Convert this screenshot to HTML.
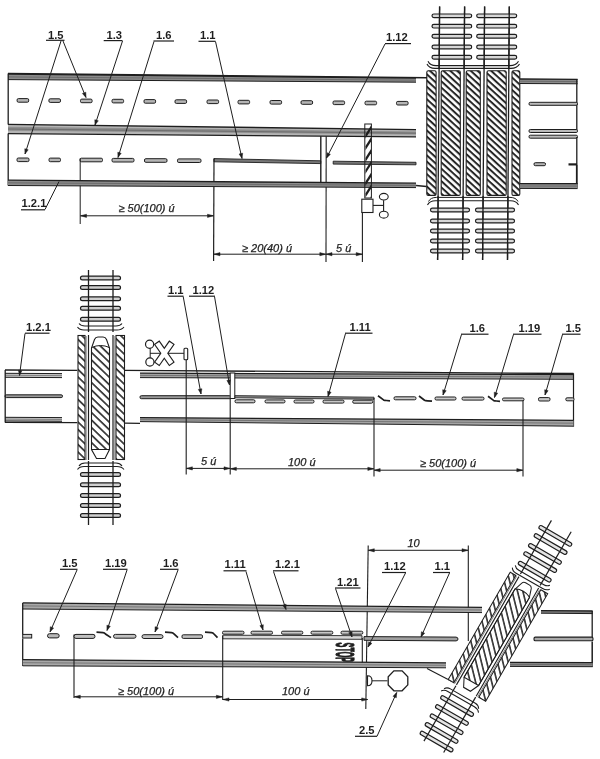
<!DOCTYPE html>
<html><head><meta charset="utf-8"><style>
html,body{margin:0;padding:0;background:#fff;}
svg{display:block;will-change:transform;}
text{font-family:"Liberation Sans",sans-serif;}
</style></head><body>
<svg width="600" height="759" viewBox="0 0 600 759">
<defs>
<pattern id="hatch1" width="20" height="4.6" patternUnits="userSpaceOnUse" patternTransform="rotate(42.5)"><rect width="20" height="2.0" fill="#262626"/></pattern>
<pattern id="hatch2" width="20" height="5.4" patternUnits="userSpaceOnUse" patternTransform="rotate(44)"><rect width="20" height="1.7" fill="#333"/></pattern>
</defs>
<rect width="600" height="759" fill="#fff"/>
<text x="48.0" y="38.8" font-size="11.2" text-anchor="start" font-weight="bold" font-style="normal" fill="#1e1e1e" >1.5</text>
<line x1="46.0" y1="40.3" x2="64.5" y2="40.3" stroke="#1e1e1e" stroke-width="1.2" />
<text x="106.5" y="38.8" font-size="11.2" text-anchor="start" font-weight="bold" font-style="normal" fill="#1e1e1e" >1.3</text>
<line x1="103.7" y1="40.6" x2="122.5" y2="40.6" stroke="#1e1e1e" stroke-width="1.2" />
<text x="156.0" y="39.0" font-size="11.2" text-anchor="start" font-weight="bold" font-style="normal" fill="#1e1e1e" >1.6</text>
<line x1="153.5" y1="41.0" x2="174.0" y2="41.0" stroke="#1e1e1e" stroke-width="1.2" />
<text x="200.0" y="39.2" font-size="11.2" text-anchor="start" font-weight="bold" font-style="normal" fill="#1e1e1e" >1.1</text>
<line x1="198.5" y1="41.3" x2="215.5" y2="41.3" stroke="#1e1e1e" stroke-width="1.2" />
<text x="386.0" y="41.2" font-size="11.2" text-anchor="start" font-weight="bold" font-style="normal" fill="#1e1e1e" >1.12</text>
<line x1="385.0" y1="43.6" x2="411.0" y2="43.6" stroke="#1e1e1e" stroke-width="1.2" />
<text x="21.5" y="206.6" font-size="11.2" text-anchor="start" font-weight="bold" font-style="normal" fill="#1e1e1e" >1.2.1</text>
<line x1="21.0" y1="209.8" x2="45.0" y2="209.8" stroke="#1e1e1e" stroke-width="1.2" />
<line x1="8.0" y1="73.6" x2="427.0" y2="77.8" stroke="#1e1e1e" stroke-width="1.5" />
<polygon points="8.0,74.2 416.0,78.2 416.0,82.2 8.0,79.6" fill="#8c8c8c" stroke="none" stroke-width="1.0" />
<line x1="8.0" y1="74.2" x2="416.0" y2="78.2" stroke="#1e1e1e" stroke-width="1.3" />
<line x1="8.0" y1="79.6" x2="416.0" y2="82.2" stroke="#1e1e1e" stroke-width="1.0" />
<line x1="8.0" y1="76.9" x2="416.0" y2="80.2" stroke="#555" stroke-width="0.6" />
<line x1="8.2" y1="73.5" x2="8.2" y2="124.5" stroke="#1e1e1e" stroke-width="1.3" />
<line x1="8.2" y1="133.5" x2="8.2" y2="185.5" stroke="#1e1e1e" stroke-width="1.3" />
<rect x="17.1" y="98.6" width="11.6" height="3.6" rx="1.3" fill="#b5b5b5" stroke="#1e1e1e" stroke-width="1.0"/>
<rect x="48.9" y="98.8" width="11.6" height="3.6" rx="1.3" fill="#b5b5b5" stroke="#1e1e1e" stroke-width="1.0"/>
<rect x="80.5" y="99.1" width="11.6" height="3.6" rx="1.3" fill="#b5b5b5" stroke="#1e1e1e" stroke-width="1.0"/>
<rect x="112.0" y="99.3" width="11.6" height="3.6" rx="1.3" fill="#b5b5b5" stroke="#1e1e1e" stroke-width="1.0"/>
<rect x="144.0" y="99.6" width="11.6" height="3.6" rx="1.3" fill="#b5b5b5" stroke="#1e1e1e" stroke-width="1.0"/>
<rect x="175.0" y="99.8" width="11.6" height="3.6" rx="1.3" fill="#b5b5b5" stroke="#1e1e1e" stroke-width="1.0"/>
<rect x="207.0" y="100.0" width="11.6" height="3.6" rx="1.3" fill="#b5b5b5" stroke="#1e1e1e" stroke-width="1.0"/>
<rect x="238.0" y="100.3" width="11.6" height="3.6" rx="1.3" fill="#b5b5b5" stroke="#1e1e1e" stroke-width="1.0"/>
<rect x="270.0" y="100.5" width="11.6" height="3.6" rx="1.3" fill="#b5b5b5" stroke="#1e1e1e" stroke-width="1.0"/>
<rect x="301.0" y="100.7" width="11.6" height="3.6" rx="1.3" fill="#b5b5b5" stroke="#1e1e1e" stroke-width="1.0"/>
<rect x="333.0" y="101.0" width="11.6" height="3.6" rx="1.3" fill="#b5b5b5" stroke="#1e1e1e" stroke-width="1.0"/>
<rect x="365.0" y="101.2" width="11.6" height="3.6" rx="1.3" fill="#b5b5b5" stroke="#1e1e1e" stroke-width="1.0"/>
<rect x="396.5" y="101.4" width="11.6" height="3.6" rx="1.3" fill="#b5b5b5" stroke="#1e1e1e" stroke-width="1.0"/>
<polygon points="8.0,124.4 416.0,129.6 416.0,136.8 8.0,133.6" fill="#b4b4b4" stroke="none" stroke-width="1.0" />
<line x1="8.0" y1="124.4" x2="416.0" y2="129.6" stroke="#1e1e1e" stroke-width="1.4" />
<polygon points="8.0,126.8 416.0,131.4 416.0,134.6 8.0,130.8" fill="#8e8e8e" stroke="none" stroke-width="1.0" />
<line x1="8.0" y1="129.0" x2="416.0" y2="133.2" stroke="#555" stroke-width="0.6" />
<line x1="8.0" y1="133.6" x2="416.0" y2="136.8" stroke="#1e1e1e" stroke-width="1.2" />
<rect x="17.0" y="158.0" width="12.0" height="3.6" rx="1.3" fill="#b5b5b5" stroke="#1e1e1e" stroke-width="1.0"/>
<rect x="49.0" y="158.1" width="11.5" height="3.6" rx="1.3" fill="#b5b5b5" stroke="#1e1e1e" stroke-width="1.0"/>
<rect x="80.0" y="158.2" width="22.5" height="3.6" rx="1.3" fill="#b5b5b5" stroke="#1e1e1e" stroke-width="1.0"/>
<rect x="112.0" y="158.4" width="22.0" height="3.6" rx="1.3" fill="#b5b5b5" stroke="#1e1e1e" stroke-width="1.0"/>
<rect x="144.5" y="158.7" width="22.5" height="3.6" rx="1.3" fill="#b5b5b5" stroke="#1e1e1e" stroke-width="1.0"/>
<rect x="177.5" y="158.9" width="23.5" height="3.6" rx="1.3" fill="#b5b5b5" stroke="#1e1e1e" stroke-width="1.0"/>
<polygon points="214.0,158.6 320.8,160.8 320.8,163.6 214.0,161.8" fill="#777" stroke="#1e1e1e" stroke-width="0.9" />
<polygon points="333.2,161.2 416.0,162.3 416.0,164.8 333.2,164.1" fill="#777" stroke="#1e1e1e" stroke-width="0.9" />
<line x1="320.8" y1="136.2" x2="320.8" y2="187.0" stroke="#1e1e1e" stroke-width="1.4" />
<line x1="326.2" y1="136.2" x2="326.0" y2="262.0" stroke="#1e1e1e" stroke-width="1.1" />
<line x1="80.2" y1="158.5" x2="80.2" y2="224.0" stroke="#1e1e1e" stroke-width="1.0" />
<line x1="214.0" y1="158.6" x2="213.6" y2="261.0" stroke="#1e1e1e" stroke-width="1.2" />
<polygon points="8.0,180.2 416.0,183.2 416.0,187.6 8.0,185.5" fill="#8c8c8c" stroke="none" stroke-width="1.0" />
<line x1="8.0" y1="180.2" x2="416.0" y2="183.2" stroke="#1e1e1e" stroke-width="1.3" />
<line x1="8.0" y1="185.5" x2="416.0" y2="187.6" stroke="#1e1e1e" stroke-width="1.0" />
<line x1="8.0" y1="182.8" x2="416.0" y2="185.4" stroke="#555" stroke-width="0.6" />
<line x1="416.0" y1="185.5" x2="426.5" y2="186.5" stroke="#1e1e1e" stroke-width="1.3" />
<rect x="364.8" y="124" width="6.6" height="74" fill="none" stroke="#1e1e1e" stroke-width="1"/>
<clipPath id="postclip"><rect x="365.3" y="124.5" width="5.8" height="73"/></clipPath><g clip-path="url(#postclip)">
<polygon points="365.3,134.5 371.0,125.5 371.0,129.7 365.3,138.7" fill="#1e1e1e" stroke="none" stroke-width="1.0" />
<polygon points="365.3,146.3 371.0,137.3 371.0,141.5 365.3,150.5" fill="#1e1e1e" stroke="none" stroke-width="1.0" />
<polygon points="365.3,158.1 371.0,149.1 371.0,153.3 365.3,162.3" fill="#1e1e1e" stroke="none" stroke-width="1.0" />
<polygon points="365.3,169.9 371.0,160.9 371.0,165.1 365.3,174.1" fill="#1e1e1e" stroke="none" stroke-width="1.0" />
<polygon points="365.3,181.7 371.0,172.7 371.0,176.9 365.3,185.9" fill="#1e1e1e" stroke="none" stroke-width="1.0" />
<polygon points="365.3,193.5 371.0,184.5 371.0,188.7 365.3,197.7" fill="#1e1e1e" stroke="none" stroke-width="1.0" />
<polygon points="365.3,205.3 371.0,196.3 371.0,200.5 365.3,209.5" fill="#1e1e1e" stroke="none" stroke-width="1.0" />
</g>
<rect x="361.8" y="199.2" width="11.2" height="13.3" fill="#fff" stroke="#1e1e1e" stroke-width="1.1"/>
<line x1="373.0" y1="205.4" x2="383.6" y2="205.4" stroke="#1e1e1e" stroke-width="1.1" />
<line x1="383.6" y1="200.2" x2="383.6" y2="211.4" stroke="#1e1e1e" stroke-width="1.1" />
<ellipse cx="383.8" cy="196.7" rx="4.4" ry="3.3" fill="#fff" stroke="#1e1e1e" stroke-width="1.1"/>
<ellipse cx="383.8" cy="214.7" rx="4.4" ry="3.4" fill="#fff" stroke="#1e1e1e" stroke-width="1.1"/>
<line x1="362.4" y1="212.5" x2="362.4" y2="262.0" stroke="#1e1e1e" stroke-width="1.1" />
<line x1="80.5" y1="215.8" x2="213.5" y2="215.8" stroke="#1e1e1e" stroke-width="1.0" />
<polygon points="80.5,215.8 86.5,214.2 86.5,217.4" fill="#1e1e1e" stroke="#1e1e1e" stroke-width="0.5" />
<polygon points="213.5,215.8 207.5,217.4 207.5,214.2" fill="#1e1e1e" stroke="#1e1e1e" stroke-width="0.5" />
<text x="118.5" y="212.0" font-size="11" text-anchor="start" font-weight="normal" font-style="italic" fill="#1e1e1e" stroke="#1e1e1e" stroke-width="0.25">&#8805; 50(100) &#250;</text>
<line x1="214.0" y1="254.2" x2="325.8" y2="254.2" stroke="#1e1e1e" stroke-width="1.0" />
<polygon points="214.0,254.2 220.0,252.6 220.0,255.8" fill="#1e1e1e" stroke="#1e1e1e" stroke-width="0.5" />
<polygon points="325.8,254.2 319.8,255.8 319.8,252.6" fill="#1e1e1e" stroke="#1e1e1e" stroke-width="0.5" />
<text x="242.0" y="251.5" font-size="11" text-anchor="start" font-weight="normal" font-style="italic" fill="#1e1e1e" stroke="#1e1e1e" stroke-width="0.25">&#8805; 20(40) &#250;</text>
<line x1="326.0" y1="254.2" x2="362.2" y2="254.2" stroke="#1e1e1e" stroke-width="1.0" />
<polygon points="326.0,254.2 332.0,252.6 332.0,255.8" fill="#1e1e1e" stroke="#1e1e1e" stroke-width="0.5" />
<polygon points="362.2,254.2 356.2,255.8 356.2,252.6" fill="#1e1e1e" stroke="#1e1e1e" stroke-width="0.5" />
<text x="336.0" y="251.5" font-size="11" text-anchor="start" font-weight="normal" font-style="italic" fill="#1e1e1e" stroke="#1e1e1e" stroke-width="0.25">5 &#250;</text>
<line x1="439.6" y1="6.5" x2="437.6" y2="260.0" stroke="#1e1e1e" stroke-width="1.3" />
<line x1="464.6" y1="6.5" x2="462.6" y2="260.0" stroke="#1e1e1e" stroke-width="1.3" />
<line x1="484.6" y1="6.5" x2="482.6" y2="260.0" stroke="#1e1e1e" stroke-width="1.3" />
<line x1="509.3" y1="6.5" x2="507.5" y2="260.0" stroke="#1e1e1e" stroke-width="1.3" />
<rect x="432.0" y="14.0" width="39.7" height="3.7" rx="1.9" fill="#d8d8d8" stroke="#1e1e1e" stroke-width="1.2"/>
<rect x="476.7" y="14.0" width="40.0" height="3.7" rx="1.9" fill="#d8d8d8" stroke="#1e1e1e" stroke-width="1.2"/>
<rect x="432.0" y="24.3" width="39.7" height="3.7" rx="1.9" fill="#d8d8d8" stroke="#1e1e1e" stroke-width="1.2"/>
<rect x="476.7" y="24.3" width="40.0" height="3.7" rx="1.9" fill="#d8d8d8" stroke="#1e1e1e" stroke-width="1.2"/>
<rect x="432.0" y="34.4" width="39.7" height="3.7" rx="1.9" fill="#d8d8d8" stroke="#1e1e1e" stroke-width="1.2"/>
<rect x="476.7" y="34.4" width="40.0" height="3.7" rx="1.9" fill="#d8d8d8" stroke="#1e1e1e" stroke-width="1.2"/>
<rect x="432.0" y="45.1" width="39.7" height="3.7" rx="1.9" fill="#d8d8d8" stroke="#1e1e1e" stroke-width="1.2"/>
<rect x="476.7" y="45.1" width="40.0" height="3.7" rx="1.9" fill="#d8d8d8" stroke="#1e1e1e" stroke-width="1.2"/>
<rect x="432.0" y="55.4" width="39.7" height="3.7" rx="1.9" fill="#d8d8d8" stroke="#1e1e1e" stroke-width="1.2"/>
<rect x="476.7" y="55.4" width="40.0" height="3.7" rx="1.9" fill="#d8d8d8" stroke="#1e1e1e" stroke-width="1.2"/>
<path d="M428,61.2 Q430,65.6 436,65.6 L510,65.6 Q516,65.6 518.5,61.2" fill="none" stroke="#1e1e1e" stroke-width="1.1" />
<path d="M427,64 Q429,68.4 435,68.4 L511,68.4 Q517,68.4 519.5,64" fill="none" stroke="#1e1e1e" stroke-width="1.1" />
<rect x="426.8" y="70.8" width="9.3" height="124.6" rx="1.5" fill="url(#hatch1)" stroke="#1e1e1e" stroke-width="1.1"/>
<rect x="441.2" y="70.8" width="19.1" height="124.6" rx="1.5" fill="url(#hatch1)" stroke="#1e1e1e" stroke-width="1.1"/>
<rect x="466.2" y="70.8" width="14.1" height="124.6" rx="1.5" fill="url(#hatch1)" stroke="#1e1e1e" stroke-width="1.1"/>
<rect x="487.0" y="70.8" width="19.2" height="124.6" rx="1.5" fill="url(#hatch1)" stroke="#1e1e1e" stroke-width="1.1"/>
<rect x="512.0" y="70.8" width="7.8" height="124.6" rx="1.5" fill="url(#hatch1)" stroke="#1e1e1e" stroke-width="1.1"/>
<path d="M427.5,205 Q429.5,200.8 435.5,200.8 L510.5,200.8 Q516.5,200.8 518.5,205" fill="none" stroke="#1e1e1e" stroke-width="1.1" />
<path d="M428.5,201.5 Q430.5,197.4 436.5,197.4 L510,197.4 Q516,197.4 518,201.5" fill="none" stroke="#1e1e1e" stroke-width="1.0" />
<rect x="430.5" y="208.2" width="39.0" height="3.7" rx="1.9" fill="#d8d8d8" stroke="#1e1e1e" stroke-width="1.2"/>
<rect x="475.5" y="208.2" width="39.0" height="3.7" rx="1.9" fill="#d8d8d8" stroke="#1e1e1e" stroke-width="1.2"/>
<rect x="430.5" y="219.2" width="39.0" height="3.7" rx="1.9" fill="#d8d8d8" stroke="#1e1e1e" stroke-width="1.2"/>
<rect x="475.5" y="219.2" width="39.0" height="3.7" rx="1.9" fill="#d8d8d8" stroke="#1e1e1e" stroke-width="1.2"/>
<rect x="430.5" y="229.2" width="39.0" height="3.7" rx="1.9" fill="#d8d8d8" stroke="#1e1e1e" stroke-width="1.2"/>
<rect x="475.5" y="229.2" width="39.0" height="3.7" rx="1.9" fill="#d8d8d8" stroke="#1e1e1e" stroke-width="1.2"/>
<rect x="430.5" y="239.2" width="39.0" height="3.7" rx="1.9" fill="#d8d8d8" stroke="#1e1e1e" stroke-width="1.2"/>
<rect x="475.5" y="239.2" width="39.0" height="3.7" rx="1.9" fill="#d8d8d8" stroke="#1e1e1e" stroke-width="1.2"/>
<rect x="430.5" y="249.2" width="39.0" height="3.7" rx="1.9" fill="#d8d8d8" stroke="#1e1e1e" stroke-width="1.2"/>
<rect x="475.5" y="249.2" width="39.0" height="3.7" rx="1.9" fill="#d8d8d8" stroke="#1e1e1e" stroke-width="1.2"/>
<line x1="439.6" y1="6.5" x2="439.1" y2="68.5" stroke="#1e1e1e" stroke-width="1.3" />
<line x1="438.1" y1="196.0" x2="437.6" y2="260.0" stroke="#1e1e1e" stroke-width="1.3" />
<line x1="464.6" y1="6.5" x2="464.1" y2="68.5" stroke="#1e1e1e" stroke-width="1.3" />
<line x1="463.1" y1="196.0" x2="462.6" y2="260.0" stroke="#1e1e1e" stroke-width="1.3" />
<line x1="484.6" y1="6.5" x2="484.1" y2="68.5" stroke="#1e1e1e" stroke-width="1.3" />
<line x1="483.1" y1="196.0" x2="482.6" y2="260.0" stroke="#1e1e1e" stroke-width="1.3" />
<line x1="509.3" y1="6.5" x2="508.8" y2="68.5" stroke="#1e1e1e" stroke-width="1.3" />
<line x1="507.9" y1="196.0" x2="507.5" y2="260.0" stroke="#1e1e1e" stroke-width="1.3" />
<polygon points="520.0,79.0 577.6,79.4 577.6,83.8 520.0,83.5" fill="#8c8c8c" stroke="none" stroke-width="1.0" />
<line x1="520.0" y1="79.0" x2="577.6" y2="79.4" stroke="#1e1e1e" stroke-width="1.3" />
<line x1="520.0" y1="83.5" x2="577.6" y2="83.8" stroke="#1e1e1e" stroke-width="1.0" />
<line x1="520.0" y1="81.2" x2="577.6" y2="81.6" stroke="#555" stroke-width="0.6" />
<line x1="576.8" y1="79.0" x2="576.8" y2="130.0" stroke="#1e1e1e" stroke-width="1.3" />
<rect x="529.0" y="102.3" width="48.5" height="3.0" rx="1.3" fill="#bbb" stroke="#1e1e1e" stroke-width="1.0"/>
<rect x="529.0" y="129.5" width="48.5" height="3.0" rx="1.3" fill="#bbb" stroke="#1e1e1e" stroke-width="1.0"/>
<rect x="529.0" y="135.2" width="48.5" height="3.0" rx="1.3" fill="#bbb" stroke="#1e1e1e" stroke-width="1.0"/>
<line x1="576.8" y1="137.0" x2="576.8" y2="164.5" stroke="#1e1e1e" stroke-width="1.3" />
<line x1="568.5" y1="164.4" x2="577.0" y2="164.4" stroke="#1e1e1e" stroke-width="2.2" />
<rect x="534.0" y="162.7" width="11.5" height="3.0" rx="1.3" fill="#b5b5b5" stroke="#1e1e1e" stroke-width="1.0"/>
<line x1="576.8" y1="164.5" x2="576.8" y2="188.0" stroke="#1e1e1e" stroke-width="1.8" />
<polygon points="520.0,183.6 577.6,183.7 577.6,188.6 520.0,188.4" fill="#8c8c8c" stroke="none" stroke-width="1.0" />
<line x1="520.0" y1="183.6" x2="577.6" y2="183.7" stroke="#1e1e1e" stroke-width="1.3" />
<line x1="520.0" y1="188.4" x2="577.6" y2="188.6" stroke="#1e1e1e" stroke-width="1.0" />
<line x1="520.0" y1="186.0" x2="577.6" y2="186.1" stroke="#555" stroke-width="0.6" />
<text x="26.0" y="331.4" font-size="11.2" text-anchor="start" font-weight="bold" font-style="normal" fill="#1e1e1e" >1.2.1</text>
<line x1="25.0" y1="333.2" x2="49.5" y2="333.2" stroke="#1e1e1e" stroke-width="1.2" />
<text x="168.0" y="294.0" font-size="11.2" text-anchor="start" font-weight="bold" font-style="normal" fill="#1e1e1e" >1.1</text>
<line x1="167.5" y1="296.2" x2="183.5" y2="296.2" stroke="#1e1e1e" stroke-width="1.2" />
<text x="192.5" y="294.0" font-size="11.2" text-anchor="start" font-weight="bold" font-style="normal" fill="#1e1e1e" >1.12</text>
<line x1="189.0" y1="296.2" x2="215.0" y2="296.2" stroke="#1e1e1e" stroke-width="1.2" />
<text x="349.5" y="330.7" font-size="11.2" text-anchor="start" font-weight="bold" font-style="normal" fill="#1e1e1e" >1.11</text>
<line x1="345.0" y1="333.2" x2="372.5" y2="333.2" stroke="#1e1e1e" stroke-width="1.2" />
<text x="469.5" y="332.4" font-size="11.2" text-anchor="start" font-weight="bold" font-style="normal" fill="#1e1e1e" >1.6</text>
<line x1="461.0" y1="334.2" x2="488.5" y2="334.2" stroke="#1e1e1e" stroke-width="1.2" />
<text x="518.5" y="332.4" font-size="11.2" text-anchor="start" font-weight="bold" font-style="normal" fill="#1e1e1e" >1.19</text>
<line x1="513.0" y1="334.2" x2="541.5" y2="334.2" stroke="#1e1e1e" stroke-width="1.2" />
<text x="565.5" y="332.4" font-size="11.2" text-anchor="start" font-weight="bold" font-style="normal" fill="#1e1e1e" >1.5</text>
<line x1="562.0" y1="334.2" x2="580.5" y2="334.2" stroke="#1e1e1e" stroke-width="1.2" />
<line x1="5.0" y1="370.0" x2="77.5" y2="370.3" stroke="#1e1e1e" stroke-width="1.3" />
<polygon points="5.0,373.3 62.0,373.6 62.0,377.6 5.0,377.3" fill="#c4c4c4" stroke="none" stroke-width="1.0" />
<line x1="5.0" y1="373.3" x2="62.0" y2="373.6" stroke="#1e1e1e" stroke-width="1.0" />
<line x1="5.0" y1="377.3" x2="62.0" y2="377.6" stroke="#1e1e1e" stroke-width="1.0" />
<line x1="5.0" y1="375.3" x2="62.0" y2="375.6" stroke="#555" stroke-width="0.6" />
<rect x="5.0" y="394.8" width="57.5" height="2.8" rx="1.3" fill="#999" stroke="#1e1e1e" stroke-width="1.0"/>
<polygon points="5.0,417.3 62.0,417.6 62.0,421.3 5.0,421.0" fill="#c4c4c4" stroke="none" stroke-width="1.0" />
<line x1="5.0" y1="417.3" x2="62.0" y2="417.6" stroke="#1e1e1e" stroke-width="1.0" />
<line x1="5.0" y1="421.0" x2="62.0" y2="421.3" stroke="#1e1e1e" stroke-width="1.0" />
<line x1="5.0" y1="419.1" x2="62.0" y2="419.5" stroke="#555" stroke-width="0.6" />
<line x1="5.0" y1="422.3" x2="77.5" y2="422.6" stroke="#1e1e1e" stroke-width="1.3" />
<line x1="5.2" y1="370.0" x2="5.2" y2="422.5" stroke="#1e1e1e" stroke-width="1.3" />
<line x1="124.5" y1="370.3" x2="573.5" y2="373.5" stroke="#1e1e1e" stroke-width="1.3" />
<polygon points="140.0,373.2 573.5,374.6 573.5,379.3 140.0,377.6" fill="#a4a4a4" stroke="none" stroke-width="1.0" />
<line x1="140.0" y1="373.2" x2="573.5" y2="374.6" stroke="#1e1e1e" stroke-width="1.3" />
<line x1="140.0" y1="377.6" x2="573.5" y2="379.3" stroke="#1e1e1e" stroke-width="1.0" />
<line x1="140.0" y1="375.4" x2="573.5" y2="377.0" stroke="#555" stroke-width="0.6" />
<line x1="573.5" y1="373.3" x2="573.5" y2="426.6" stroke="#1e1e1e" stroke-width="1.2" />
<polygon points="140.0,417.6 573.5,420.3 573.5,426.2 140.0,421.6" fill="#a4a4a4" stroke="none" stroke-width="1.0" />
<line x1="140.0" y1="417.6" x2="573.5" y2="420.3" stroke="#1e1e1e" stroke-width="1.3" />
<line x1="140.0" y1="421.6" x2="573.5" y2="426.2" stroke="#1e1e1e" stroke-width="1.0" />
<line x1="140.0" y1="419.6" x2="573.5" y2="423.2" stroke="#555" stroke-width="0.6" />
<line x1="124.5" y1="423.2" x2="140.0" y2="423.4" stroke="#1e1e1e" stroke-width="1.3" />
<rect x="140.0" y="395.7" width="91.0" height="3.0" rx="1.3" fill="#999" stroke="#1e1e1e" stroke-width="1.0"/>
<rect x="230.2" y="373" width="4.6" height="25.5" fill="#fff" stroke="#1e1e1e" stroke-width="1.0"/>
<polygon points="235.0,395.6 374.0,397.2 374.0,399.3 235.0,397.8" fill="#888" stroke="#1e1e1e" stroke-width="0.8" />
<rect x="235.0" y="399.8" width="20.0" height="3.0" rx="1.3" fill="#c8c8c8" stroke="#1e1e1e" stroke-width="1.0"/>
<rect x="265.0" y="399.9" width="20.0" height="3.0" rx="1.3" fill="#c8c8c8" stroke="#1e1e1e" stroke-width="1.0"/>
<rect x="294.0" y="400.0" width="20.0" height="3.0" rx="1.3" fill="#c8c8c8" stroke="#1e1e1e" stroke-width="1.0"/>
<rect x="323.0" y="400.1" width="21.0" height="3.0" rx="1.3" fill="#c8c8c8" stroke="#1e1e1e" stroke-width="1.0"/>
<rect x="352.7" y="400.2" width="20.0" height="3.0" rx="1.3" fill="#c8c8c8" stroke="#1e1e1e" stroke-width="1.0"/>
<path d="M378.0,395.7 L383.5,399.9 Q384.5,400.5 386.5,400.5 L390.0,400.9" fill="none" stroke="#1e1e1e" stroke-width="1.7" />
<rect x="394.0" y="396.8" width="22.0" height="3.0" rx="1.3" fill="#c8c8c8" stroke="#1e1e1e" stroke-width="1.0"/>
<path d="M419.0,396.0 L424.5,400.2 Q425.5,400.8 427.5,400.8 L432.0,401.2" fill="none" stroke="#1e1e1e" stroke-width="1.7" />
<rect x="435.0" y="397.0" width="21.0" height="3.0" rx="1.3" fill="#c8c8c8" stroke="#1e1e1e" stroke-width="1.0"/>
<rect x="462.0" y="397.1" width="22.0" height="3.0" rx="1.3" fill="#c8c8c8" stroke="#1e1e1e" stroke-width="1.0"/>
<path d="M488.0,396.2 L493.5,400.4 Q494.5,401.0 496.5,401.0 L500.0,401.4" fill="none" stroke="#1e1e1e" stroke-width="1.7" />
<rect x="502.5" y="398.0" width="21.5" height="2.8" rx="1.3" fill="#c8c8c8" stroke="#1e1e1e" stroke-width="1.0"/>
<rect x="538.5" y="397.6" width="11.5" height="3.4" rx="1.3" fill="#c8c8c8" stroke="#1e1e1e" stroke-width="1.0"/>
<rect x="565.8" y="397.8" width="8.2" height="3.0" rx="1.3" fill="#c8c8c8" stroke="#1e1e1e" stroke-width="1.0"/>
<circle cx="149.6" cy="344.2" r="4.1" fill="#fff" stroke="#1e1e1e" stroke-width="1.2"/>
<circle cx="149.9" cy="362" r="4.1" fill="#fff" stroke="#1e1e1e" stroke-width="1.2"/>
<line x1="150.2" y1="348.3" x2="150.2" y2="357.9" stroke="#1e1e1e" stroke-width="1.0" />
<line x1="150.0" y1="353.3" x2="184.0" y2="353.3" stroke="#1e1e1e" stroke-width="1.0" />
<rect x="-12.3" y="-2.3" width="24.6" height="4.6" transform="translate(164.3,353.3) rotate(-55)" fill="#fff" stroke="#1e1e1e" stroke-width="2.2"/>
<rect x="-12.3" y="-2.3" width="24.6" height="4.6" transform="translate(164.3,353.3) rotate(-125)" fill="#fff" stroke="#1e1e1e" stroke-width="2.2"/>
<rect x="-12.3" y="-2.3" width="24.6" height="4.6" transform="translate(164.3,353.3) rotate(-55)" fill="#fff" stroke="none"/>
<rect x="-12.3" y="-2.3" width="24.6" height="4.6" transform="translate(164.3,353.3) rotate(-125)" fill="#fff" stroke="none"/>
<rect x="184" y="348.3" width="3.7" height="11.5" rx="1" fill="#fff" stroke="#1e1e1e" stroke-width="1.1"/>
<line x1="186.2" y1="359.8" x2="186.2" y2="474.5" stroke="#1e1e1e" stroke-width="1.1" />
<line x1="230.2" y1="398.5" x2="230.2" y2="474.5" stroke="#1e1e1e" stroke-width="1.1" />
<line x1="374.0" y1="398.0" x2="374.0" y2="476.5" stroke="#1e1e1e" stroke-width="1.1" />
<line x1="523.0" y1="400.0" x2="523.0" y2="476.5" stroke="#1e1e1e" stroke-width="1.1" />
<line x1="186.4" y1="468.4" x2="230.0" y2="468.4" stroke="#1e1e1e" stroke-width="1.0" />
<polygon points="186.4,468.4 192.4,466.8 192.4,470.0" fill="#1e1e1e" stroke="#1e1e1e" stroke-width="0.5" />
<polygon points="230.0,468.4 224.0,470.0 224.0,466.8" fill="#1e1e1e" stroke="#1e1e1e" stroke-width="0.5" />
<text x="201.0" y="465.2" font-size="11" text-anchor="start" font-weight="normal" font-style="italic" fill="#1e1e1e" stroke="#1e1e1e" stroke-width="0.25">5 &#250;</text>
<line x1="230.4" y1="468.8" x2="373.8" y2="468.8" stroke="#1e1e1e" stroke-width="1.0" />
<polygon points="230.4,468.8 236.4,467.2 236.4,470.4" fill="#1e1e1e" stroke="#1e1e1e" stroke-width="0.5" />
<polygon points="373.8,468.8 367.8,470.4 367.8,467.2" fill="#1e1e1e" stroke="#1e1e1e" stroke-width="0.5" />
<text x="288.0" y="465.5" font-size="11" text-anchor="start" font-weight="normal" font-style="italic" fill="#1e1e1e" stroke="#1e1e1e" stroke-width="0.25">100 &#250;</text>
<line x1="374.2" y1="470.2" x2="522.8" y2="470.2" stroke="#1e1e1e" stroke-width="1.0" />
<polygon points="374.2,470.2 380.2,468.6 380.2,471.8" fill="#1e1e1e" stroke="#1e1e1e" stroke-width="0.5" />
<polygon points="522.8,470.2 516.8,471.8 516.8,468.6" fill="#1e1e1e" stroke="#1e1e1e" stroke-width="0.5" />
<text x="420.0" y="467.0" font-size="11" text-anchor="start" font-weight="normal" font-style="italic" fill="#1e1e1e" stroke="#1e1e1e" stroke-width="0.25">&#8805; 50(100) &#250;</text>
<g transform="translate(101,398) rotate(0) scale(1.0,1)">
<rect x="-20.5" y="-121.9" width="40.0" height="3.8" rx="1.9" fill="#d0d0d0" stroke="#1e1e1e" stroke-width="1.2"/>
<rect x="-20.5" y="-112.4" width="40.0" height="3.8" rx="1.9" fill="#d0d0d0" stroke="#1e1e1e" stroke-width="1.2"/>
<rect x="-20.5" y="-101.1" width="40.0" height="3.8" rx="1.9" fill="#d0d0d0" stroke="#1e1e1e" stroke-width="1.2"/>
<rect x="-20.5" y="-91.6" width="40.0" height="3.8" rx="1.9" fill="#d0d0d0" stroke="#1e1e1e" stroke-width="1.2"/>
<rect x="-20.5" y="-80.6" width="40.0" height="3.8" rx="1.9" fill="#d0d0d0" stroke="#1e1e1e" stroke-width="1.2"/>
<g transform="translate(0,0.0)">
<path d="M-22,-74.5 Q-20,-72 -16,-72 L15,-72 Q19,-72 21,-74.5" fill="none" stroke="#1e1e1e" stroke-width="1.1" />
<path d="M-23.5,-71 Q-21.5,-68 -17,-68 L16,-68 Q20.5,-68 23,-71" fill="none" stroke="#1e1e1e" stroke-width="1.1" />
<path d="M-22,68 Q-20,65 -16,65 L15,65 Q19,65 21,68" fill="none" stroke="#1e1e1e" stroke-width="1.1" />
<path d="M-23.5,71.5 Q-21.5,68.5 -17,68.5 L16,68.5 Q20.5,68.5 23,71.5" fill="none" stroke="#1e1e1e" stroke-width="1.1" />
</g>
<rect x="-23.5" y="-63" width="47.5" height="125" fill="#fff" stroke="none"/>
<rect x="-23" y="-62.5" width="7" height="124" fill="url(#hatch2)" stroke="#1e1e1e" stroke-width="1.1"/>
<rect x="15" y="-62.5" width="8.5" height="124" fill="url(#hatch2)" stroke="#1e1e1e" stroke-width="1.1"/>
<line x1="-14.8" y1="-62.0" x2="-14.8" y2="62.0" stroke="#555" stroke-width="0.7" />
<line x1="13.8" y1="-62.0" x2="13.8" y2="62.0" stroke="#555" stroke-width="0.7" />
<line x1="-12.5" y1="-63.0" x2="-12.5" y2="62.0" stroke="#1e1e1e" stroke-width="1.2" />
<line x1="12.0" y1="-63.0" x2="12.0" y2="62.0" stroke="#1e1e1e" stroke-width="1.2" />
<path d="M-9.5,-50 L-9.5,51.5 L-4.5,60.5 L4,60.5 L8.5,51.5 L8.5,-50 L5.5,-58.5 Q4.5,-61 2,-61 L-3,-61 Q-5.5,-61 -6.5,-58.5 Z" fill="#fff" stroke="#1e1e1e" stroke-width="1.1" />
<path d="M-9.5,-50.5 Q-0.5,-54.5 8.5,-50.5 L8.5,51.5 L-9.5,51.5 Z" fill="url(#hatch2)" stroke="#1e1e1e" stroke-width="1.0"/>
<rect x="-20.5" y="74.6" width="40.0" height="3.8" rx="1.9" fill="#d0d0d0" stroke="#1e1e1e" stroke-width="1.2"/>
<rect x="-20.5" y="84.9" width="40.0" height="3.8" rx="1.9" fill="#d0d0d0" stroke="#1e1e1e" stroke-width="1.2"/>
<rect x="-20.5" y="95.6" width="40.0" height="3.8" rx="1.9" fill="#d0d0d0" stroke="#1e1e1e" stroke-width="1.2"/>
<rect x="-20.5" y="105.6" width="40.0" height="3.8" rx="1.9" fill="#d0d0d0" stroke="#1e1e1e" stroke-width="1.2"/>
<rect x="-20.5" y="115.6" width="40.0" height="3.8" rx="1.9" fill="#d0d0d0" stroke="#1e1e1e" stroke-width="1.2"/>
<line x1="-12.5" y1="-128.0" x2="-12.5" y2="-66.0" stroke="#1e1e1e" stroke-width="1.3" />
<line x1="12.0" y1="-128.0" x2="12.0" y2="-66.0" stroke="#1e1e1e" stroke-width="1.3" />
<line x1="-12.5" y1="63.0" x2="-12.5" y2="127.0" stroke="#1e1e1e" stroke-width="1.3" />
<line x1="12.0" y1="63.0" x2="12.0" y2="127.0" stroke="#1e1e1e" stroke-width="1.3" />
</g>
<text x="62.0" y="567.4" font-size="11.2" text-anchor="start" font-weight="bold" font-style="normal" fill="#1e1e1e" >1.5</text>
<line x1="60.0" y1="569.3" x2="77.5" y2="569.3" stroke="#1e1e1e" stroke-width="1.2" />
<text x="105.0" y="567.4" font-size="11.2" text-anchor="start" font-weight="bold" font-style="normal" fill="#1e1e1e" >1.19</text>
<line x1="103.0" y1="569.3" x2="127.5" y2="569.3" stroke="#1e1e1e" stroke-width="1.2" />
<text x="163.0" y="567.4" font-size="11.2" text-anchor="start" font-weight="bold" font-style="normal" fill="#1e1e1e" >1.6</text>
<line x1="160.0" y1="569.3" x2="178.5" y2="569.3" stroke="#1e1e1e" stroke-width="1.2" />
<text x="224.5" y="568.4" font-size="11.2" text-anchor="start" font-weight="bold" font-style="normal" fill="#1e1e1e" >1.11</text>
<line x1="223.5" y1="570.8" x2="246.5" y2="570.8" stroke="#1e1e1e" stroke-width="1.2" />
<text x="275.0" y="568.4" font-size="11.2" text-anchor="start" font-weight="bold" font-style="normal" fill="#1e1e1e" >1.2.1</text>
<line x1="273.0" y1="570.8" x2="298.5" y2="570.8" stroke="#1e1e1e" stroke-width="1.2" />
<text x="337.0" y="585.9" font-size="11.2" text-anchor="start" font-weight="bold" font-style="normal" fill="#1e1e1e" >1.21</text>
<line x1="335.0" y1="588.0" x2="360.5" y2="588.0" stroke="#1e1e1e" stroke-width="1.2" />
<text x="384.0" y="569.9" font-size="11.2" text-anchor="start" font-weight="bold" font-style="normal" fill="#1e1e1e" >1.12</text>
<line x1="382.0" y1="572.5" x2="406.0" y2="572.5" stroke="#1e1e1e" stroke-width="1.2" />
<text x="434.5" y="569.9" font-size="11.2" text-anchor="start" font-weight="bold" font-style="normal" fill="#1e1e1e" >1.1</text>
<line x1="433.0" y1="572.5" x2="450.0" y2="572.5" stroke="#1e1e1e" stroke-width="1.2" />
<text x="359.0" y="733.9" font-size="11.2" text-anchor="start" font-weight="bold" font-style="normal" fill="#1e1e1e" >2.5</text>
<line x1="355.0" y1="736.3" x2="377.0" y2="736.3" stroke="#1e1e1e" stroke-width="1.2" />
<line x1="368.2" y1="545.5" x2="365.8" y2="709.0" stroke="#1e1e1e" stroke-width="1.1" />
<line x1="468.3" y1="545.5" x2="468.3" y2="641.0" stroke="#1e1e1e" stroke-width="1.1" />
<line x1="368.3" y1="550.3" x2="468.0" y2="550.3" stroke="#1e1e1e" stroke-width="1.0" />
<polygon points="368.3,550.3 374.3,548.7 374.3,551.9" fill="#1e1e1e" stroke="#1e1e1e" stroke-width="0.5" />
<polygon points="468.0,550.3 462.0,551.9 462.0,548.7" fill="#1e1e1e" stroke="#1e1e1e" stroke-width="0.5" />
<text x="407.5" y="547.0" font-size="11" text-anchor="start" font-weight="normal" font-style="italic" fill="#1e1e1e" stroke="#1e1e1e" stroke-width="0.25">10</text>
<polygon points="22.7,602.8 482.0,607.4 482.0,612.6 22.7,609.0" fill="#a8a8a8" stroke="none" stroke-width="1.0" />
<line x1="22.7" y1="602.8" x2="482.0" y2="607.4" stroke="#1e1e1e" stroke-width="1.3" />
<line x1="22.7" y1="609.0" x2="482.0" y2="612.6" stroke="#1e1e1e" stroke-width="1.0" />
<line x1="22.7" y1="605.9" x2="482.0" y2="610.0" stroke="#555" stroke-width="0.6" />
<line x1="22.7" y1="603.0" x2="22.7" y2="634.5" stroke="#1e1e1e" stroke-width="1.3" />
<line x1="22.7" y1="638.5" x2="22.7" y2="666.0" stroke="#1e1e1e" stroke-width="1.3" />
<rect x="22.7" y="634.4" width="9" height="3.6" fill="#c8c8c8" stroke="#1e1e1e" stroke-width="1"/>
<polygon points="22.7,659.6 446.0,662.8 446.0,667.8 22.7,665.8" fill="#a8a8a8" stroke="none" stroke-width="1.0" />
<line x1="22.7" y1="659.6" x2="446.0" y2="662.8" stroke="#1e1e1e" stroke-width="1.3" />
<line x1="22.7" y1="665.8" x2="446.0" y2="667.8" stroke="#1e1e1e" stroke-width="1.0" />
<line x1="22.7" y1="662.7" x2="446.0" y2="665.3" stroke="#555" stroke-width="0.6" />
<line x1="427.0" y1="668.5" x2="451.5" y2="681.3" stroke="#1e1e1e" stroke-width="1.1" />
<rect x="47.5" y="633.7" width="11.7" height="4.2" rx="2.1" fill="#b8b8b8" stroke="#1e1e1e" stroke-width="1.0"/>
<path d="M74,698 L74,635 L95,635.2" fill="none" stroke="#1e1e1e" stroke-width="1.1" />
<rect x="74.0" y="634.4" width="21.0" height="4.0" rx="2.0" fill="#c0c0c0" stroke="#1e1e1e" stroke-width="1.0"/>
<path d="M96.5,632.2 L103.0,632.6 Q104.5,632.7 105.5,634.0 L111.0,637.6" fill="none" stroke="#1e1e1e" stroke-width="1.7" />
<rect x="113.5" y="634.4" width="22.5" height="3.8" rx="1.9" fill="#c0c0c0" stroke="#1e1e1e" stroke-width="1.0"/>
<rect x="142.0" y="634.7" width="21.0" height="3.8" rx="1.9" fill="#c0c0c0" stroke="#1e1e1e" stroke-width="1.0"/>
<path d="M165.0,632.2 L171.5,632.6 Q173.0,632.7 174.0,634.0 L178.0,637.6" fill="none" stroke="#1e1e1e" stroke-width="1.7" />
<rect x="182.0" y="634.8" width="20.5" height="3.6" rx="1.3" fill="#c0c0c0" stroke="#1e1e1e" stroke-width="1.0"/>
<path d="M205.0,632.2 L211.5,632.6 Q213.0,632.7 214.0,634.0 L217.5,637.6" fill="none" stroke="#1e1e1e" stroke-width="1.7" />
<rect x="222.5" y="631.2" width="21.5" height="3.0" rx="1.3" fill="#c8c8c8" stroke="#1e1e1e" stroke-width="1.0"/>
<rect x="251.0" y="631.2" width="21.5" height="3.0" rx="1.3" fill="#c8c8c8" stroke="#1e1e1e" stroke-width="1.0"/>
<rect x="281.5" y="631.2" width="21.3" height="3.0" rx="1.3" fill="#c8c8c8" stroke="#1e1e1e" stroke-width="1.0"/>
<rect x="311.0" y="631.2" width="21.8" height="3.0" rx="1.3" fill="#c8c8c8" stroke="#1e1e1e" stroke-width="1.0"/>
<rect x="341.0" y="631.2" width="21.8" height="3.0" rx="1.3" fill="#c8c8c8" stroke="#1e1e1e" stroke-width="1.0"/>
<polygon points="222.7,635.2 362.0,635.7 362.0,639.3 222.7,638.8" fill="#d8d8d8" stroke="#1e1e1e" stroke-width="0.9" />
<line x1="222.7" y1="636.0" x2="222.7" y2="700.0" stroke="#1e1e1e" stroke-width="1.1" />
<path d="M364,636.6 L456,637.1 Q458,637.3 458,639 Q458,640.8 456,640.9 L364,640.3 Z" fill="#a0a0a0" stroke="#1e1e1e" stroke-width="1.0" />
<line x1="362.3" y1="638.0" x2="362.3" y2="662.5" stroke="#1e1e1e" stroke-width="1.1" />
<text transform="translate(335.8,642.6) rotate(90) scale(0.72,2.5)" font-size="10" font-weight="bold" fill="#1e1e1e" stroke="#1e1e1e" stroke-width="0.9" vector-effect="non-scaling-stroke">STOP</text>
<line x1="74.3" y1="696.8" x2="222.4" y2="696.8" stroke="#1e1e1e" stroke-width="1.0" />
<polygon points="74.3,696.8 80.3,695.2 80.3,698.4" fill="#1e1e1e" stroke="#1e1e1e" stroke-width="0.5" />
<polygon points="222.4,696.8 216.4,698.4 216.4,695.2" fill="#1e1e1e" stroke="#1e1e1e" stroke-width="0.5" />
<text x="118.0" y="694.5" font-size="11" text-anchor="start" font-weight="normal" font-style="italic" fill="#1e1e1e" stroke="#1e1e1e" stroke-width="0.25">&#8805; 50(100) &#250;</text>
<line x1="223.0" y1="699.5" x2="367.7" y2="699.5" stroke="#1e1e1e" stroke-width="1.0" />
<polygon points="223.0,699.5 229.0,697.9 229.0,701.1" fill="#1e1e1e" stroke="#1e1e1e" stroke-width="0.5" />
<polygon points="367.7,699.5 361.7,701.1 361.7,697.9" fill="#1e1e1e" stroke="#1e1e1e" stroke-width="0.5" />
<text x="282.0" y="695.0" font-size="11" text-anchor="start" font-weight="normal" font-style="italic" fill="#1e1e1e" stroke="#1e1e1e" stroke-width="0.25">100 &#250;</text>
<path d="M367.5,675.8 Q372,675.8 372,680.8 Q372,685.8 367.5,685.8 Z" fill="#fff" stroke="#1e1e1e" stroke-width="1.1" />
<line x1="372.0" y1="680.8" x2="387.5" y2="680.8" stroke="#1e1e1e" stroke-width="1.0" />
<polygon points="407.8,684.9 402.1,690.8 393.9,690.8 388.2,684.9 388.2,676.7 393.9,670.8 402.1,670.8 407.8,676.7" fill="#fff" stroke="#1e1e1e" stroke-width="1.3" />
<polygon points="541.0,610.6 592.7,611.0 592.7,613.6 541.0,613.2" fill="#8c8c8c" stroke="none" stroke-width="1.0" />
<line x1="541.0" y1="610.6" x2="592.7" y2="611.0" stroke="#1e1e1e" stroke-width="1.3" />
<line x1="541.0" y1="613.2" x2="592.7" y2="613.6" stroke="#1e1e1e" stroke-width="1.0" />
<line x1="541.0" y1="611.9" x2="592.7" y2="612.3" stroke="#555" stroke-width="0.6" />
<line x1="592.2" y1="611.0" x2="592.2" y2="637.3" stroke="#1e1e1e" stroke-width="1.3" />
<rect x="534.0" y="637.1" width="59.0" height="3.6" rx="1.3" fill="#a8a8a8" stroke="#1e1e1e" stroke-width="1.1"/>
<line x1="592.2" y1="641.5" x2="592.2" y2="666.7" stroke="#1e1e1e" stroke-width="1.5" />
<polygon points="510.0,662.4 592.7,662.7 592.7,666.7 510.0,666.4" fill="#8c8c8c" stroke="none" stroke-width="1.0" />
<line x1="510.0" y1="662.4" x2="592.7" y2="662.7" stroke="#1e1e1e" stroke-width="1.3" />
<line x1="510.0" y1="666.4" x2="592.7" y2="666.7" stroke="#1e1e1e" stroke-width="1.0" />
<line x1="510.0" y1="664.4" x2="592.7" y2="664.7" stroke="#555" stroke-width="0.6" />
<g transform="translate(497.5,637) rotate(30) scale(0.93,1)">
<rect x="-20.5" y="-118.4" width="40.0" height="3.8" rx="1.9" fill="#e4e4e4" stroke="#1e1e1e" stroke-width="1.2"/>
<rect x="-20.5" y="-108.9" width="40.0" height="3.8" rx="1.9" fill="#e4e4e4" stroke="#1e1e1e" stroke-width="1.2"/>
<rect x="-20.5" y="-97.6" width="40.0" height="3.8" rx="1.9" fill="#e4e4e4" stroke="#1e1e1e" stroke-width="1.2"/>
<rect x="-20.5" y="-88.1" width="40.0" height="3.8" rx="1.9" fill="#e4e4e4" stroke="#1e1e1e" stroke-width="1.2"/>
<rect x="-20.5" y="-77.1" width="40.0" height="3.8" rx="1.9" fill="#e4e4e4" stroke="#1e1e1e" stroke-width="1.2"/>
<g transform="translate(0,3.5)">
<path d="M-22,-74.5 Q-20,-72 -16,-72 L15,-72 Q19,-72 21,-74.5" fill="none" stroke="#1e1e1e" stroke-width="1.1" />
<path d="M-23.5,-71 Q-21.5,-68 -17,-68 L16,-68 Q20.5,-68 23,-71" fill="none" stroke="#1e1e1e" stroke-width="1.1" />
<path d="M-22,68 Q-20,65 -16,65 L15,65 Q19,65 21,68" fill="none" stroke="#1e1e1e" stroke-width="1.1" />
<path d="M-23.5,71.5 Q-21.5,68.5 -17,68.5 L16,68.5 Q20.5,68.5 23,71.5" fill="none" stroke="#1e1e1e" stroke-width="1.1" />
</g>
<rect x="-23.5" y="-63" width="47.5" height="125" fill="#fff" stroke="none"/>
<rect x="-23" y="-62.5" width="7" height="124" fill="url(#hatch2)" stroke="#1e1e1e" stroke-width="1.1"/>
<rect x="15" y="-62.5" width="8.5" height="124" fill="url(#hatch2)" stroke="#1e1e1e" stroke-width="1.1"/>
<line x1="-14.8" y1="-62.0" x2="-14.8" y2="62.0" stroke="#555" stroke-width="0.7" />
<line x1="13.8" y1="-62.0" x2="13.8" y2="62.0" stroke="#555" stroke-width="0.7" />
<line x1="-12.5" y1="-63.0" x2="-12.5" y2="62.0" stroke="#1e1e1e" stroke-width="1.2" />
<line x1="12.0" y1="-63.0" x2="12.0" y2="62.0" stroke="#1e1e1e" stroke-width="1.2" />
<path d="M-9.5,-50 L-9.5,51.5 L-4.5,60.5 L4,60.5 L8.5,51.5 L8.5,-50 L5.5,-58.5 Q4.5,-61 2,-61 L-3,-61 Q-5.5,-61 -6.5,-58.5 Z" fill="#fff" stroke="#1e1e1e" stroke-width="1.1" />
<path d="M-9.5,-50.5 Q-0.5,-54.5 8.5,-50.5 L8.5,51.5 L-9.5,51.5 Z" fill="url(#hatch2)" stroke="#1e1e1e" stroke-width="1.0"/>
<rect x="-20.5" y="78.1" width="40.0" height="3.8" rx="1.9" fill="#e4e4e4" stroke="#1e1e1e" stroke-width="1.2"/>
<rect x="-20.5" y="88.4" width="40.0" height="3.8" rx="1.9" fill="#e4e4e4" stroke="#1e1e1e" stroke-width="1.2"/>
<rect x="-20.5" y="99.1" width="40.0" height="3.8" rx="1.9" fill="#e4e4e4" stroke="#1e1e1e" stroke-width="1.2"/>
<rect x="-20.5" y="109.1" width="40.0" height="3.8" rx="1.9" fill="#e4e4e4" stroke="#1e1e1e" stroke-width="1.2"/>
<rect x="-20.5" y="119.1" width="40.0" height="3.8" rx="1.9" fill="#e4e4e4" stroke="#1e1e1e" stroke-width="1.2"/>
<line x1="-12.5" y1="-128.0" x2="-12.5" y2="-66.0" stroke="#1e1e1e" stroke-width="1.3" />
<line x1="12.0" y1="-128.0" x2="12.0" y2="-66.0" stroke="#1e1e1e" stroke-width="1.3" />
<line x1="-12.5" y1="63.0" x2="-12.5" y2="127.0" stroke="#1e1e1e" stroke-width="1.3" />
<line x1="12.0" y1="63.0" x2="12.0" y2="127.0" stroke="#1e1e1e" stroke-width="1.3" />
</g>
<line x1="63.0" y1="41.0" x2="86.0" y2="97.5" stroke="#1e1e1e" stroke-width="1.0" />
<polygon points="86.0,97.5 82.4,93.5 85.8,92.2" fill="#1e1e1e" stroke="#1e1e1e" stroke-width="0.5" />
<line x1="61.0" y1="41.0" x2="25.0" y2="154.0" stroke="#1e1e1e" stroke-width="1.0" />
<polygon points="25.0,154.0 24.8,148.7 28.2,149.8" fill="#1e1e1e" stroke="#1e1e1e" stroke-width="0.5" />
<line x1="122.5" y1="41.0" x2="95.0" y2="125.0" stroke="#1e1e1e" stroke-width="1.0" />
<polygon points="95.0,125.0 94.8,119.7 98.3,120.8" fill="#1e1e1e" stroke="#1e1e1e" stroke-width="0.5" />
<line x1="154.0" y1="41.5" x2="118.0" y2="157.5" stroke="#1e1e1e" stroke-width="1.0" />
<polygon points="118.0,157.5 117.8,152.2 121.2,153.3" fill="#1e1e1e" stroke="#1e1e1e" stroke-width="0.5" />
<line x1="215.5" y1="41.5" x2="242.0" y2="158.5" stroke="#1e1e1e" stroke-width="1.0" />
<polygon points="242.0,158.5 239.1,154.0 242.7,153.2" fill="#1e1e1e" stroke="#1e1e1e" stroke-width="0.5" />
<line x1="385.0" y1="44.0" x2="326.5" y2="158.0" stroke="#1e1e1e" stroke-width="1.0" />
<polygon points="326.5,158.0 327.2,152.7 330.4,154.4" fill="#1e1e1e" stroke="#1e1e1e" stroke-width="0.5" />
<line x1="45.0" y1="209.5" x2="59.0" y2="181.5" stroke="#1e1e1e" stroke-width="1.0" />
<line x1="25.0" y1="333.5" x2="19.5" y2="375.5" stroke="#1e1e1e" stroke-width="1.0" />
<polygon points="19.5,375.5 18.4,370.3 21.9,370.8" fill="#1e1e1e" stroke="#1e1e1e" stroke-width="0.5" />
<line x1="183.2" y1="296.5" x2="201.0" y2="394.0" stroke="#1e1e1e" stroke-width="1.0" />
<polygon points="201.0,394.0 198.3,389.4 201.9,388.8" fill="#1e1e1e" stroke="#1e1e1e" stroke-width="0.5" />
<line x1="214.5" y1="296.5" x2="229.5" y2="385.0" stroke="#1e1e1e" stroke-width="1.0" />
<polygon points="229.5,385.0 226.9,380.4 230.4,379.8" fill="#1e1e1e" stroke="#1e1e1e" stroke-width="0.5" />
<line x1="345.5" y1="333.5" x2="328.0" y2="396.5" stroke="#1e1e1e" stroke-width="1.0" />
<polygon points="328.0,396.5 327.6,391.2 331.1,392.2" fill="#1e1e1e" stroke="#1e1e1e" stroke-width="0.5" />
<line x1="461.5" y1="334.5" x2="443.0" y2="395.0" stroke="#1e1e1e" stroke-width="1.0" />
<polygon points="443.0,395.0 442.7,389.7 446.2,390.7" fill="#1e1e1e" stroke="#1e1e1e" stroke-width="0.5" />
<line x1="513.5" y1="334.5" x2="494.5" y2="397.5" stroke="#1e1e1e" stroke-width="1.0" />
<polygon points="494.5,397.5 494.2,392.2 497.7,393.2" fill="#1e1e1e" stroke="#1e1e1e" stroke-width="0.5" />
<line x1="562.5" y1="334.5" x2="545.0" y2="395.0" stroke="#1e1e1e" stroke-width="1.0" />
<polygon points="545.0,395.0 544.7,389.7 548.1,390.7" fill="#1e1e1e" stroke="#1e1e1e" stroke-width="0.5" />
<line x1="77.0" y1="570.0" x2="50.0" y2="632.0" stroke="#1e1e1e" stroke-width="1.0" />
<polygon points="50.0,632.0 50.3,626.7 53.6,628.1" fill="#1e1e1e" stroke="#1e1e1e" stroke-width="0.5" />
<line x1="127.0" y1="570.0" x2="107.0" y2="630.5" stroke="#1e1e1e" stroke-width="1.0" />
<polygon points="107.0,630.5 106.9,625.2 110.3,626.3" fill="#1e1e1e" stroke="#1e1e1e" stroke-width="0.5" />
<line x1="178.0" y1="570.0" x2="155.0" y2="632.0" stroke="#1e1e1e" stroke-width="1.0" />
<polygon points="155.0,632.0 155.1,626.7 158.4,627.9" fill="#1e1e1e" stroke="#1e1e1e" stroke-width="0.5" />
<line x1="246.0" y1="571.5" x2="263.0" y2="630.0" stroke="#1e1e1e" stroke-width="1.0" />
<polygon points="263.0,630.0 259.9,625.7 263.3,624.7" fill="#1e1e1e" stroke="#1e1e1e" stroke-width="0.5" />
<line x1="273.5" y1="571.5" x2="286.0" y2="609.5" stroke="#1e1e1e" stroke-width="1.0" />
<polygon points="286.0,609.5 282.7,605.3 286.1,604.2" fill="#1e1e1e" stroke="#1e1e1e" stroke-width="0.5" />
<line x1="335.5" y1="588.5" x2="352.0" y2="637.0" stroke="#1e1e1e" stroke-width="1.0" />
<polygon points="352.0,637.0 348.7,632.8 352.1,631.7" fill="#1e1e1e" stroke="#1e1e1e" stroke-width="0.5" />
<line x1="405.5" y1="573.0" x2="368.0" y2="647.0" stroke="#1e1e1e" stroke-width="1.0" />
<polygon points="368.0,647.0 368.7,641.7 371.9,643.4" fill="#1e1e1e" stroke="#1e1e1e" stroke-width="0.5" />
<line x1="449.5" y1="573.0" x2="421.0" y2="637.0" stroke="#1e1e1e" stroke-width="1.0" />
<polygon points="421.0,637.0 421.4,631.7 424.7,633.2" fill="#1e1e1e" stroke="#1e1e1e" stroke-width="0.5" />
<line x1="377.0" y1="736.3" x2="396.7" y2="692.5" stroke="#1e1e1e" stroke-width="1.0" />
<polygon points="396.7,692.5 396.3,697.8 393.0,696.3" fill="#1e1e1e" stroke="#1e1e1e" stroke-width="0.5" />
</svg>
</body></html>
